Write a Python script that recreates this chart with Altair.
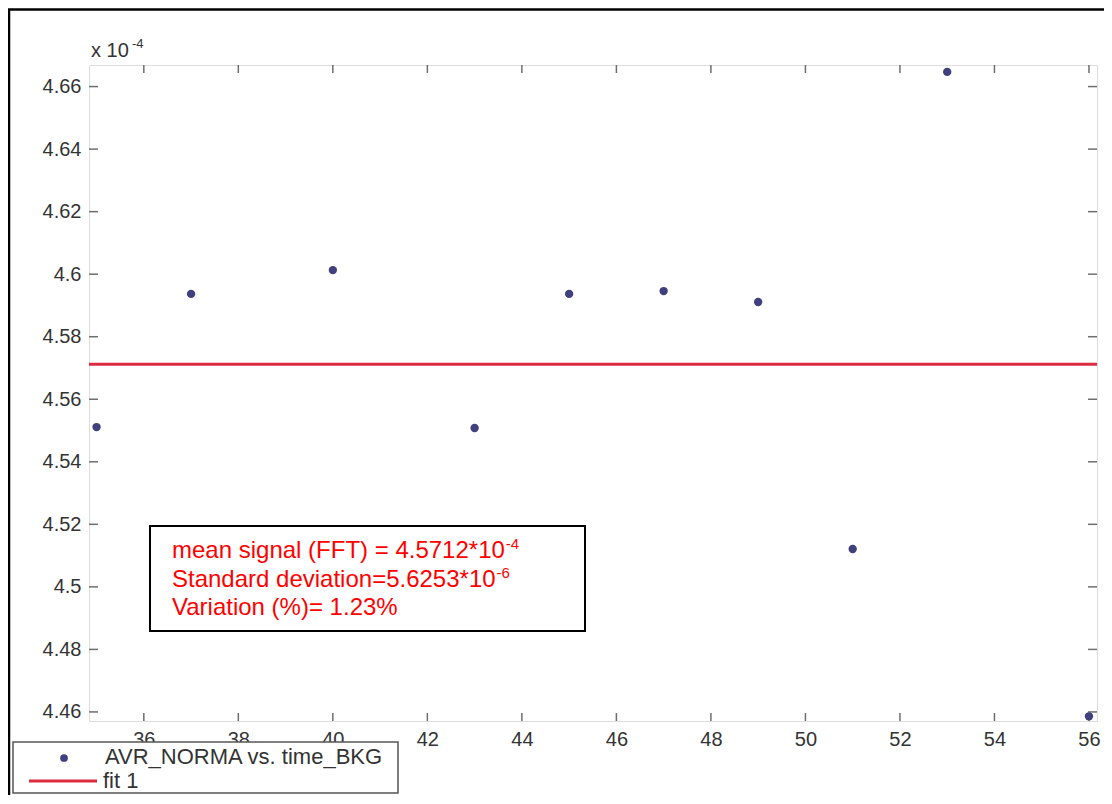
import altair as alt
import pandas as pd

# ---- data ----
time_bkg = [35, 37, 40, 43, 45, 47, 49, 51, 53, 56]
avr_norma = [4.5511, 4.5937, 4.6013, 4.5508, 4.5937, 4.5946, 4.5911, 4.5121, 4.6647, 4.4586]
fit_value = [4.5712]
x_ticks = [36, 38, 40, 42, 44, 46, 48, 50, 52, 54, 56]
y_ticks = [4.46, 4.48, 4.50, 4.52, 4.54, 4.56, 4.58, 4.60, 4.62, 4.64, 4.66]
x_domain = [34.84, 56.17]
y_domain = [4.4571, 4.6669]

box_lines = ["mean signal (FFT) = 4.5712*10", "Standard deviation=5.6253*10", "Variation (%)= 1.23%"]
box_sups = ["-4", "-6"]
legend_labels = ["AVR_NORMA vs. time_BKG", "fit 1"]
exp_label = ["x 10", "-4"]

# ---- layout ----
W, H = 1008, 656
PAD = {"left": 81, "top": 57, "right": 7, "bottom": 74}
FONT = "Liberation Sans"
frame = "#6e6e6e"
label_col = "#333333"
dot_col = "#40407f"
fit_col = "#dc2a40"

xs = alt.Scale(domain=x_domain, nice=False, zero=False)
ys = alt.Scale(domain=y_domain, nice=False, zero=False)
xaxis = alt.Axis(values=x_ticks, format="d", ticks=False, domain=False, grid=False,
                 labelPadding=8, labelFontSize=20, labelFont=FONT, labelColor=label_col, title=None)
yaxis = alt.Axis(values=y_ticks, format=".2~f", ticks=False, domain=False, grid=False,
                 labelPadding=8, labelFontSize=20, labelFont=FONT, labelColor=label_col, title=None)
X = alt.X("x:Q", scale=xs, axis=xaxis)
Y = alt.Y("y:Q", scale=ys, axis=yaxis)

pts = pd.DataFrame({"x": time_bkg, "y": avr_norma})
xt = pd.DataFrame({"x": x_ticks})
yt = pd.DataFrame({"y": y_ticks})
fit = pd.DataFrame({"y": fit_value})
one = pd.DataFrame({"a": [0]})

tk = dict(color=frame, strokeWidth=1.5)
t_bottom = alt.Chart(xt).mark_rule(**tk).encode(x=X, y=alt.value(H), y2=alt.value(H - 8))
t_top = alt.Chart(xt).mark_rule(**tk).encode(x=X, y=alt.value(0), y2=alt.value(8))
t_left = alt.Chart(yt).mark_rule(**tk).encode(y=Y, x=alt.value(0), x2=alt.value(9))
t_right = alt.Chart(yt).mark_rule(**tk).encode(y=Y, x=alt.value(W), x2=alt.value(W - 9))

fit_line = alt.Chart(fit).mark_rule(color=fit_col, strokeWidth=3).encode(y=Y)
points = alt.Chart(pts).mark_circle(size=70, color=dot_col, opacity=1).encode(x=X, y=Y)

# ---- annotation box ----
BOX_FS = 24
box_rect = alt.Chart(one).mark_rect(fill="white", stroke="black", strokeWidth=2).encode(
    x=alt.value(61), x2=alt.value(496), y=alt.value(461), y2=alt.value(566))
box_text = []
baselines = [493, 521.5, 550]
for txt, by in zip(box_lines, baselines):
    box_text.append(alt.Chart(one).mark_text(align="left", baseline="alphabetic", font=FONT,
                                             fontSize=BOX_FS, color="#ff0000").encode(
        x=alt.value(83), y=alt.value(by), text=alt.value(txt)))
sup_x = [83 + 13.867 * BOX_FS + 1, 83 + 13.481 * BOX_FS + 1]
sup_y = [484, 512.5]
for s, sx, sy in zip(box_sups, sup_x, sup_y):
    box_text.append(alt.Chart(one).mark_text(align="left", baseline="alphabetic", font=FONT,
                                             fontSize=15, color="#ff0000").encode(
        x=alt.value(sx), y=alt.value(sy), text=alt.value(s)))

# ---- exponent label ----
exp_text = [
    alt.Chart(one).mark_text(align="left", baseline="alphabetic", font=FONT, fontSize=20,
                             color=label_col).encode(x=alt.value(2), y=alt.value(-8), text=alt.value(exp_label[0])),
    alt.Chart(one).mark_text(align="left", baseline="alphabetic", font=FONT, fontSize=13,
                             color=label_col).encode(x=alt.value(43), y=alt.value(-17), text=alt.value(exp_label[1])),
]

# ---- legend ----
LB = H + PAD["bottom"] - 2
leg_rect = alt.Chart(one).mark_rect(fill="white", stroke="#555555", strokeWidth=1.5).encode(
    x=alt.value(-76), x2=alt.value(309), y=alt.value(677), y2=alt.value(LB))
leg_dot = alt.Chart(one).mark_circle(size=60, color=dot_col, opacity=1).encode(
    x=alt.value(-25), y=alt.value(693))
leg_line = alt.Chart(one).mark_rule(color=fit_col, strokeWidth=3).encode(
    x=alt.value(-60), x2=alt.value(8), y=alt.value(716), y2=alt.value(716))
leg_t1 = alt.Chart(one).mark_text(align="left", baseline="alphabetic", font=FONT, fontSize=22,
                                  color=label_col).encode(x=alt.value(16), y=alt.value(699), text=alt.value(legend_labels[0]))
leg_t2 = alt.Chart(one).mark_text(align="left", baseline="alphabetic", font=FONT, fontSize=22,
                                  color=label_col).encode(x=alt.value(14), y=alt.value(723), text=alt.value(legend_labels[1]))

# ---- outer figure border ----
b_top = alt.Chart(one).mark_rule(color="black", strokeWidth=2.5).encode(
    x=alt.value(-81), x2=alt.value(W + PAD["right"]), y=alt.value(-55.5), y2=alt.value(-55.5))
b_left = alt.Chart(one).mark_rule(color="black", strokeWidth=2.5).encode(
    x=alt.value(-80), x2=alt.value(-80), y=alt.value(-56), y2=alt.value(H + PAD["bottom"]))

chart = alt.layer(
    t_bottom, t_top, t_left, t_right, fit_line, points,
    box_rect, *box_text, *exp_text,
    b_top, b_left,
    leg_rect, leg_dot, leg_line, leg_t1, leg_t2,
).properties(
    width=W, height=H,
    autosize=alt.AutoSizeParams(type="none"),
    padding=PAD,
).configure_view(stroke=frame, strokeWidth=1.5).configure(background="white")

chart.save("out.html", embed_options={"renderer": "svg", "actions": False})
